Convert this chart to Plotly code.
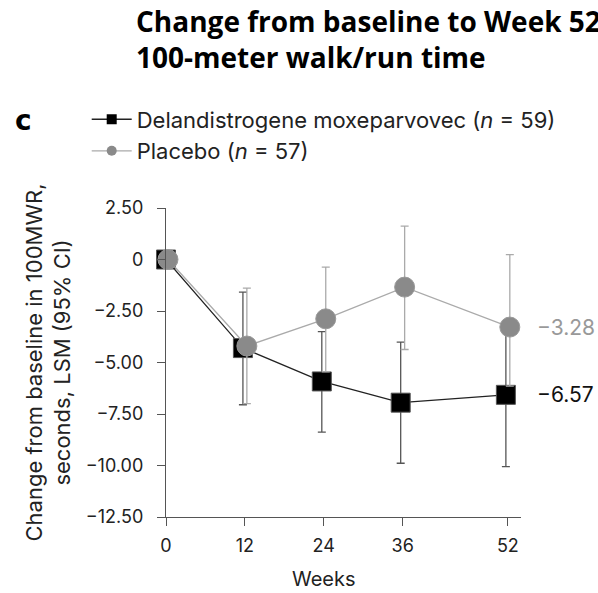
import plotly.graph_objects as go

weeks = [0, 12, 24, 36, 52]
dela_lsm = [0, -4.30, -5.92, -6.95, -6.57]
dela_upper = [0, -1.58, -3.50, -4.01, -3.20]
dela_lower = [0, -7.05, -8.38, -9.89, -10.05]
placebo_lsm = [0, -4.20, -2.88, -1.34, -3.28]
placebo_upper = [0, -1.39, -0.37, 1.62, 0.24]
placebo_lower = [0, -7.00, -5.45, -4.37, -6.15]

y_tickvals = [2.5, 0, -2.5, -5, -7.5, -10, -12.5]
y_ticktext = ["2.50", "0", "\u22122.50", "\u22125.00", "\u22127.50", "\u221210.00", "\u221212.50"]
x_tickvals = [0, 12, 24, 36, 52]

dela_name = "Delandistrogene moxeparvovec (<i>n</i> = 59)"
placebo_name = "Placebo (<i>n</i> = 57)"
y_title = "Change from baseline in 100MWR,<br>seconds, LSM (95% CI)"

FONT = "Inter"
BLACK = "#000000"
DARK = "#555555"
GREY = "#8a8a8a"
LIGHT = "#aaaaaa"

# small horizontal dodge so the two series do not sit exactly on top of each other
dodge = 0.3
dx = [max(w - dodge, 0) for w in weeks]
px_ = [w + dodge for w in weeks]

fig = go.Figure()

fig.add_trace(go.Scatter(
    x=dx, y=dela_lsm, mode="lines+markers", showlegend=False, cliponaxis=False,
    line=dict(color="#222222", width=1.3),
    marker=dict(symbol="square", size=19, color=BLACK, line=dict(color="#555555", width=1)),
    error_y=dict(type="data", symmetric=False,
                 array=[u - m for u, m in zip(dela_upper, dela_lsm)],
                 arrayminus=[m - l for m, l in zip(dela_lsm, dela_lower)],
                 color=DARK, thickness=1.3, width=4),
))
fig.add_trace(go.Scatter(
    x=px_, y=placebo_lsm, mode="lines+markers", showlegend=False, cliponaxis=False,
    line=dict(color=LIGHT, width=1.3),
    marker=dict(symbol="circle", size=20, color=GREY, line=dict(color="#9a9a9a", width=1)),
    error_y=dict(type="data", symmetric=False,
                 array=[u - m for u, m in zip(placebo_upper, placebo_lsm)],
                 arrayminus=[m - l for m, l in zip(placebo_lsm, placebo_lower)],
                 color=LIGHT, thickness=1.3, width=4),
))
# legend entries
fig.add_trace(go.Scatter(
    x=[None], y=[None], mode="lines+markers", name=dela_name,
    line=dict(color="#222222", width=1.3),
    marker=dict(symbol="square", size=10, color=BLACK),
))
fig.add_trace(go.Scatter(
    x=[None], y=[None], mode="lines+markers", name=placebo_name,
    line=dict(color=LIGHT, width=1.3),
    marker=dict(symbol="circle", size=10, color=GREY),
))

fig.add_annotation(x=weeks[-1], y=placebo_lsm[-1], xref="x", yref="y",
                   text=f"\u2212{abs(placebo_lsm[-1]):.2f}", showarrow=False,
                   xanchor="left", xshift=27, font=dict(family=FONT, size=21, color="#999999"))
fig.add_annotation(x=weeks[-1], y=dela_lsm[-1], xref="x", yref="y",
                   text=f"\u2212{abs(dela_lsm[-1]):.2f}", showarrow=False,
                   xanchor="left", xshift=27, font=dict(family=FONT, size=21, color="#111111"))

# title
fig.add_annotation(xref="paper", yref="paper", x=0, y=1, xshift=-32, yshift=208,
                   xanchor="left", yanchor="top", align="left",
                   text="<b>Change from baseline to Week 52</b><br><b>100-meter walk/run time</b>",
                   showarrow=False, font=dict(family="Open Sans", size=28, color="#000000"))
# panel letter
fig.add_annotation(xref="paper", yref="paper", x=0, y=1, xshift=-153, yshift=88,
                   xanchor="left", yanchor="middle", text="<b>c</b>", showarrow=False,
                   font=dict(family="DejaVu Sans", size=28, color="#000000"))
# x title
fig.add_annotation(xref="x", yref="paper", x=24, y=0, yshift=-62, yanchor="middle",
                   text="Weeks", showarrow=False, font=dict(family=FONT, size=20, color="#222222"))
# y title
fig.add_annotation(xref="paper", yref="paper", x=0, y=0.5, xshift=-118, xanchor="center",
                   yanchor="middle", textangle=-90, text=y_title, showarrow=False,
                   font=dict(family=FONT, size=22, color="#222222"))

fig.update_layout(
    width=598, height=593, autosize=False,
    margin=dict(l=166, r=77, t=208, b=76, autoexpand=False),
    paper_bgcolor="white", plot_bgcolor="white",
    font=dict(family=FONT, size=18, color="#222222"),
    legend=dict(x=0.145, y=0.834, yanchor="top", xanchor="left",
                xref="container", yref="container",
                font=dict(family=FONT, size=22, color="#222222"),
                itemwidth=40, tracegroupgap=0, bgcolor="rgba(0,0,0,0)"),
)

fig.update_xaxes(range=[0, 54], tickvals=x_tickvals, ticks="outside", ticklen=8, automargin=False,
                 tickcolor="#555555", showline=True, linecolor="#555555", linewidth=1.3,
                 showgrid=False, zeroline=False, tickfont=dict(family=FONT, size=18, color="#222222"),
                 ticklabelstandoff=4)
fig.update_yaxes(range=[-12.5, 2.5], tickvals=y_tickvals, ticktext=y_ticktext, ticks="outside",
                 ticklen=8, tickcolor="#555555", showline=True, linecolor="#555555", linewidth=1.3,
                 automargin=False,
                 showgrid=False, zeroline=False, tickfont=dict(family=FONT, size=18, color="#222222"),
                 ticklabelstandoff=10)

fig.write_html("out.html")
